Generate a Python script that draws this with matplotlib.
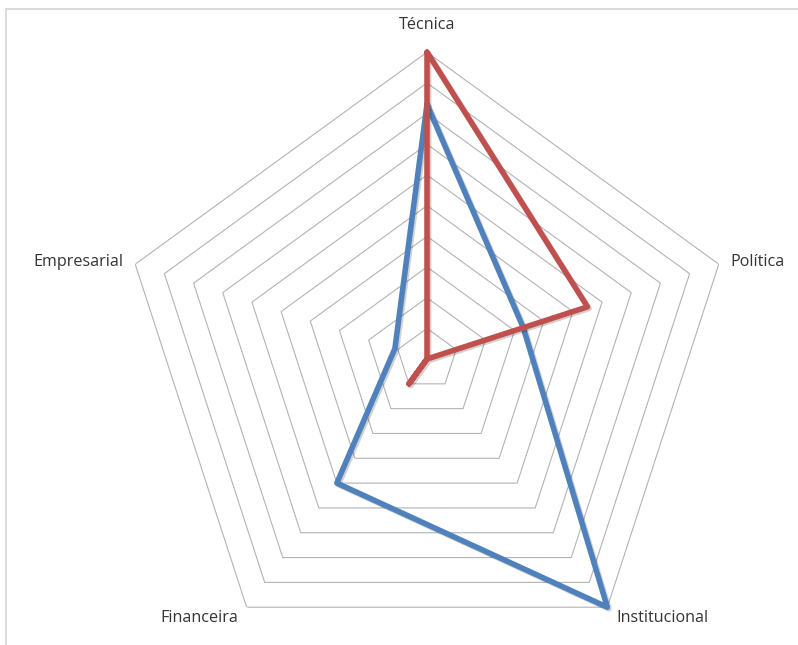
import matplotlib
matplotlib.use("Agg")
import matplotlib.pyplot as plt
import matplotlib.patheffects as pe
from matplotlib.patches import Rectangle
import numpy as np

# radar of five dimensions, two series
categories = ["Técnica", "Política", "Institucional", "Financeira", "Empresarial"]
serie_azul = [8.3, 3.3, 10, 5, 1.1]
serie_vermelha = [10, 5.5, 0, 1, 0]
niveis = list(range(1, 11))

cor_azul = "#4F81BD"
cor_vermelha = "#C0504D"
cor_grade = "#B3B3B3"
cor_texto = "#333333"

plt.rcParams["font.family"] = ["Open Sans", "DejaVu Sans"]

fig = plt.figure(figsize=(7.98, 6.45), dpi=100)

# light frame of the chart area
fig.add_artist(Rectangle((6 / 798, -0.1), 1.2, (645 - 9) / 645 + 0.1,
                         transform=fig.transFigure, fill=False,
                         edgecolor="#D4D4D4", linewidth=1.2))

cx, cy, R = 427, 645 - 359, 306.8
ax = fig.add_axes([(cx - R) / 798, (cy - R) / 645, 2 * R / 798, 2 * R / 645],
                  projection="polar")
ax.set_theta_offset(np.pi / 2)
ax.set_theta_direction(-1)
ax.set_ylim(0, 10)
ax.grid(False)
ax.spines["polar"].set_visible(False)
ax.set_xticks([])
ax.set_yticks([])
ax.patch.set_alpha(0)

angulos = np.linspace(0, 2 * np.pi, len(categories), endpoint=False)
fechado = np.append(angulos, angulos[0])

# pentagon rings
for n in niveis:
    ax.plot(fechado, [n] * len(fechado), color=cor_grade, linewidth=0.8,
            zorder=1)

sombra = [pe.SimpleLineShadow(offset=(1.2, -1.2), alpha=0.18, shadow_color="k"),
          pe.Normal()]

for valores, cor in [(serie_azul, cor_azul), (serie_vermelha, cor_vermelha)]:
    ax.plot(fechado, valores + valores[:1], color=cor, linewidth=4.0,
            solid_joinstyle="round", solid_capstyle="round",
            path_effects=sombra, zorder=3, clip_on=False)

# category labels outside the outer ring
posicoes = {
    "Técnica": ((0, 19.5), "center", "center"),
    "Política": ((8, 1.5), "left", "center"),
    "Institucional": ((6.5, -7.5), "left", "center"),
    "Financeira": ((-6.3, -7.5), "right", "center"),
    "Empresarial": ((-8.6, 1.5), "right", "center"),
}
for ang, nome in zip(angulos, categories):
    deslocamento, ha, va = posicoes[nome]
    ax.annotate(nome, xy=(ang, 10), xytext=deslocamento,
                textcoords="offset points", ha=ha, va=va,
                fontsize=11.6, color=cor_texto, annotation_clip=False)

fig.savefig("out.png", dpi=100)
